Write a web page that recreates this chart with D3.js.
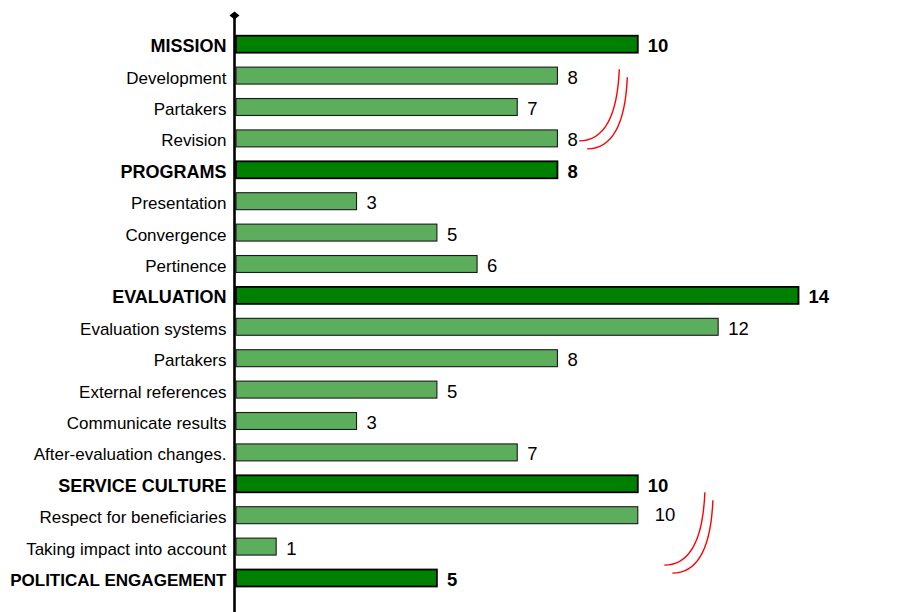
<!DOCTYPE html>
<html>
<head>
<meta charset="utf-8">
<script src="https://cdn.jsdelivr.net/npm/d3@7"></script>
<style>
  html, body { margin: 0; padding: 0; background: #ffffff; }
  svg { display: block; }
  text { font-family: "Liberation Sans", Arial, Helvetica, sans-serif; fill: #000; }
</style>
</head>
<body>
<svg id="chart" width="910" height="612"></svg>
<script>
// Rows of the assessment, top to bottom
const categories = [
  "MISSION", "Development", "Partakers", "Revision",
  "PROGRAMS", "Presentation", "Convergence", "Pertinence",
  "EVALUATION", "Evaluation systems", "Partakers", "External references",
  "Communicate results", "After-evaluation changes.",
  "SERVICE CULTURE", "Respect for beneficiaries", "Taking impact into account",
  "POLITICAL ENGAGEMENT"
];
// Score of each row
const values = [10, 8, 7, 8, 8, 3, 5, 6, 14, 12, 8, 5, 3, 7, 10, 10, 1, 5];
// 0 = section heading, 1 = sub-item
const levels = [0, 1, 1, 1, 0, 1, 1, 1, 0, 1, 1, 1, 1, 1, 0, 1, 1, 0];

const rows = categories.map((name, i) => ({ i, name, value: values[i], level: levels[i] }));

const svg = d3.select("#chart");
const width = 910, height = 612;

const axisX = 234.5;
const labelRight = 226.5;
const x = d3.scaleLinear().domain([0, 14]).range([236, 798.5]);
const y = d3.scaleBand()
  .domain(rows.map(d => d.i))
  .range([28.5, 593.7])
  .paddingInner(0.46)
  .paddingOuter(0.23);

const center = i => y(i) + y.bandwidth() / 2;
// fractional row position -> pixel (used for the hand-drawn brackets)
const rowY = r => center(0) + r * y.step();

const colors = { 0: "#008000", 1: "#5cad5c" };

// Bars
svg.append("g")
  .selectAll("rect")
  .data(rows)
  .join("rect")
  .attr("x", x(0))
  .attr("y", d => y(d.i))
  .attr("width", d => x(d.value) - x(0))
  .attr("height", y.bandwidth())
  .attr("fill", d => colors[d.level])
  .attr("stroke", d => d.level === 0 ? "#000" : "#1a1a1a")
  .attr("stroke-width", d => d.level === 0 ? 1.8 : 1.1);

// Category labels; long ones shrink to stay inside the left margin
const maxLabelWidth = labelRight - 10;
svg.append("g")
  .selectAll("text")
  .data(rows)
  .join("text")
  .attr("x", labelRight)
  .attr("y", d => center(d.i) + 8)
  .attr("text-anchor", "end")
  .attr("font-size", d => d.level === 0 ? 18 : 17)
  .attr("font-weight", d => d.level === 0 ? "bold" : "normal")
  .text(d => d.name)
  .each(function (d) {
    const w = this.getComputedTextLength();
    if (w > maxLabelWidth) {
      const size = parseFloat(this.getAttribute("font-size"));
      this.setAttribute("font-size", (size * maxLabelWidth / w).toFixed(2));
    }
  });

// Value labels (one label sits a little apart from its bar)
const labelNudge = { 15: { dx: 7, dy: -2 } };
svg.append("g")
  .selectAll("text")
  .data(rows)
  .join("text")
  .attr("x", d => x(d.value) + 10 + ((labelNudge[d.i] || {}).dx || 0))
  .attr("y", d => center(d.i) + 8 + ((labelNudge[d.i] || {}).dy || 0))
  .attr("font-size", 18.5)
  .attr("font-weight", d => d.level === 0 ? "bold" : "normal")
  .text(d => d.value);

// Vertical category axis with a diamond cap
svg.append("line")
  .attr("x1", axisX).attr("x2", axisX)
  .attr("y1", 15).attr("y2", height)
  .attr("stroke", "#000")
  .attr("stroke-width", 2.6);
svg.append("path")
  .attr("d", `M${axisX},11.5 L${axisX + 5},15.5 L${axisX},19.5 L${axisX - 5},15.5 Z`)
  .attr("fill", "#000");

// Red double brackets drawn beside two groups of values
const brackets = [
  { xTop: 9.54, rTop: 0.80, xBot: 8.54, rBot: 3.08 },
  { xTop: 11.67, rTop: 14.27, xBot: 10.66, rBot: 16.59 }
];
const gap = 8;
brackets.forEach(b => {
  [0, 1].forEach(k => {
    const x0 = x(b.xTop) + k * gap, y0 = rowY(b.rTop) + k * gap;
    const x1 = x(b.xBot) + k * gap, y1 = rowY(b.rBot) + k * gap;
    svg.append("path")
      .attr("d", `M${x0},${y0} Q${x0 - 3},${y1} ${x1},${y1}`)
      .attr("fill", "none")
      .attr("stroke", "#ff0000")
      .attr("stroke-width", 1.4);
  });
});
</script>
</body>
</html>
